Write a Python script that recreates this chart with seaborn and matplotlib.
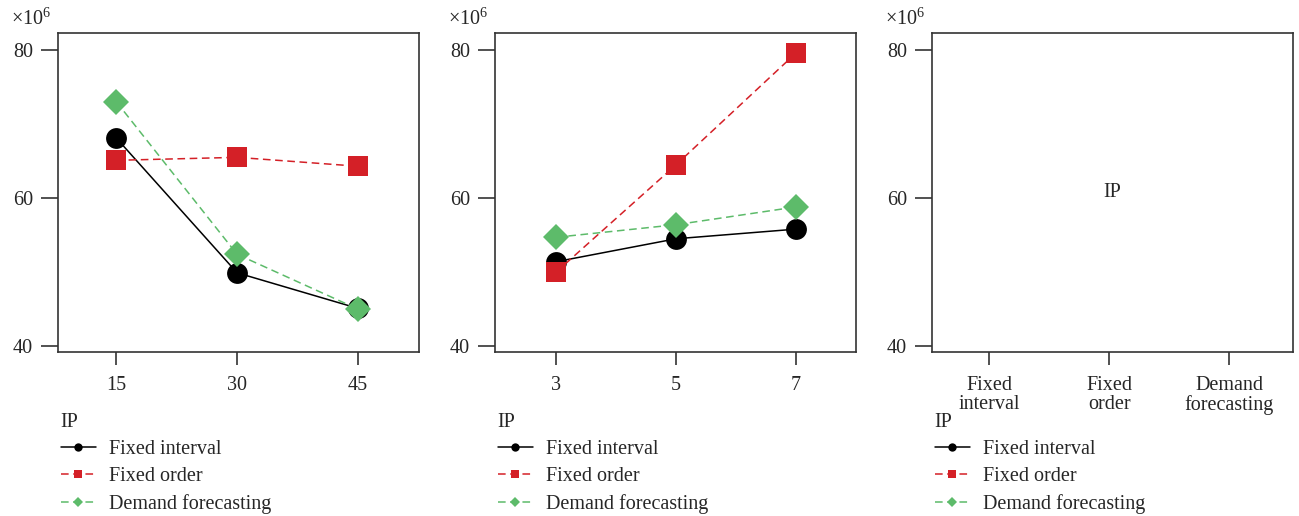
import matplotlib
matplotlib.use("Agg")
import matplotlib.pyplot as plt
from matplotlib.lines import Line2D
import seaborn as sns
import pandas as pd

sns.set_theme(style="white")
plt.rcParams['font.family'] = ['Liberation Serif', 'DejaVu Serif']
plt.rcParams['mathtext.fontset'] = 'custom'
plt.rcParams['mathtext.rm'] = 'Liberation Serif'

series = ["Fixed interval", "Fixed order", "Demand forecasting"]

# Panel 1
x1 = [15, 30, 45]
p1_fixed_interval = [68.1, 49.9, 45.1]
p1_fixed_order = [65.1, 65.5, 64.3]
p1_demand = [73.0, 52.4, 45.0]

# Panel 2
x2 = [3, 5, 7]
p2_fixed_interval = [51.4, 54.5, 55.8]
p2_fixed_order = [50.0, 64.5, 79.6]
p2_demand = [54.7, 56.4, 58.8]

# Panel 3 categories
x3_labels = ["Fixed\ninterval", "Fixed\norder", "Demand\nforecasting"]

y_ticks = [40, 60, 80]

FS = 14.5
colors = {"Fixed interval": "#000000", "Fixed order": "#D42027", "Demand forecasting": "#5DBB6A"}
markers = {"Fixed interval": "o", "Fixed order": "s", "Demand forecasting": "D"}
msizes = {"Fixed interval": 15, "Fixed order": 15, "Demand forecasting": 13.5}
lmsizes = {"Fixed interval": 6, "Fixed order": 6, "Demand forecasting": 5}
lstyles = {"Fixed interval": "-", "Fixed order": (0, (5, 3)), "Demand forecasting": (0, (5, 3))}

fig = plt.figure(figsize=(12.99, 5.16), dpi=100)
W, H = 1299, 516
lefts = [58, 495, 932]
axes = [fig.add_axes([l / W, 1 - 352 / H, 361 / W, 319 / H]) for l in lefts]

def draw(ax, x, vals):
    for name, v in zip(series, vals):
        df = pd.DataFrame({"x": x, "y": v})
        sns.lineplot(data=df, x="x", y="y", ax=ax, color=colors[name],
                     marker=markers[name], markersize=msizes[name],
                     markeredgewidth=0, linewidth=1.1,
                     linestyle=lstyles[name], legend=False)

draw(axes[0], x1, [p1_fixed_interval, p1_fixed_order, p1_demand])
draw(axes[1], x2, [p2_fixed_interval, p2_fixed_order, p2_demand])

axes[0].set_xlim(7.75, 52.6)
axes[0].set_xticks(x1)
axes[1].set_xlim(1.98, 8.0)
axes[1].set_xticks(x2)
axes[2].set_xlim(-0.475, 2.53)
axes[2].set_xticks(range(3))
axes[2].set_xticklabels(x3_labels, linespacing=1.0)
axes[2].text(0.5, 0.5, "IP", transform=axes[2].transAxes, ha="center", va="center", fontsize=FS)

for ax in axes:
    ax.set_ylim(39.2, 82.3)
    ax.set_yticks(y_ticks)
    ax.set_xlabel("")
    ax.set_ylabel("")
    for s in ax.spines.values():
        s.set_visible(True)
        s.set_color("#333333")
        s.set_linewidth(1.2)
    ax.tick_params(axis="y", direction="out", length=12, width=1.2, color="#333333",
                   labelsize=FS, pad=6, left=True)
    ax.tick_params(axis="x", direction="out", length=9, width=1.2, color="#333333",
                   labelsize=FS, pad=8, bottom=True)
    ax.text(-0.13, 1.01, r"$\times10^6$", transform=ax.transAxes, fontsize=FS,
            ha="left", va="bottom")
    handles = [Line2D([0], [0], color=colors[n], linestyle=lstyles[n], linewidth=1.1,
                      marker=markers[n], markersize=lmsizes[n], markeredgewidth=0)
               for n in series]
    ax.legend(handles, series, title="IP", loc="upper left", bbox_to_anchor=(-0.015, -0.166),
              frameon=False, fontsize=FS, title_fontsize=FS, alignment="left",
              handlelength=1.75, handletextpad=0.65, labelspacing=0.4, borderaxespad=0)

fig.savefig("out.png", dpi=100)
